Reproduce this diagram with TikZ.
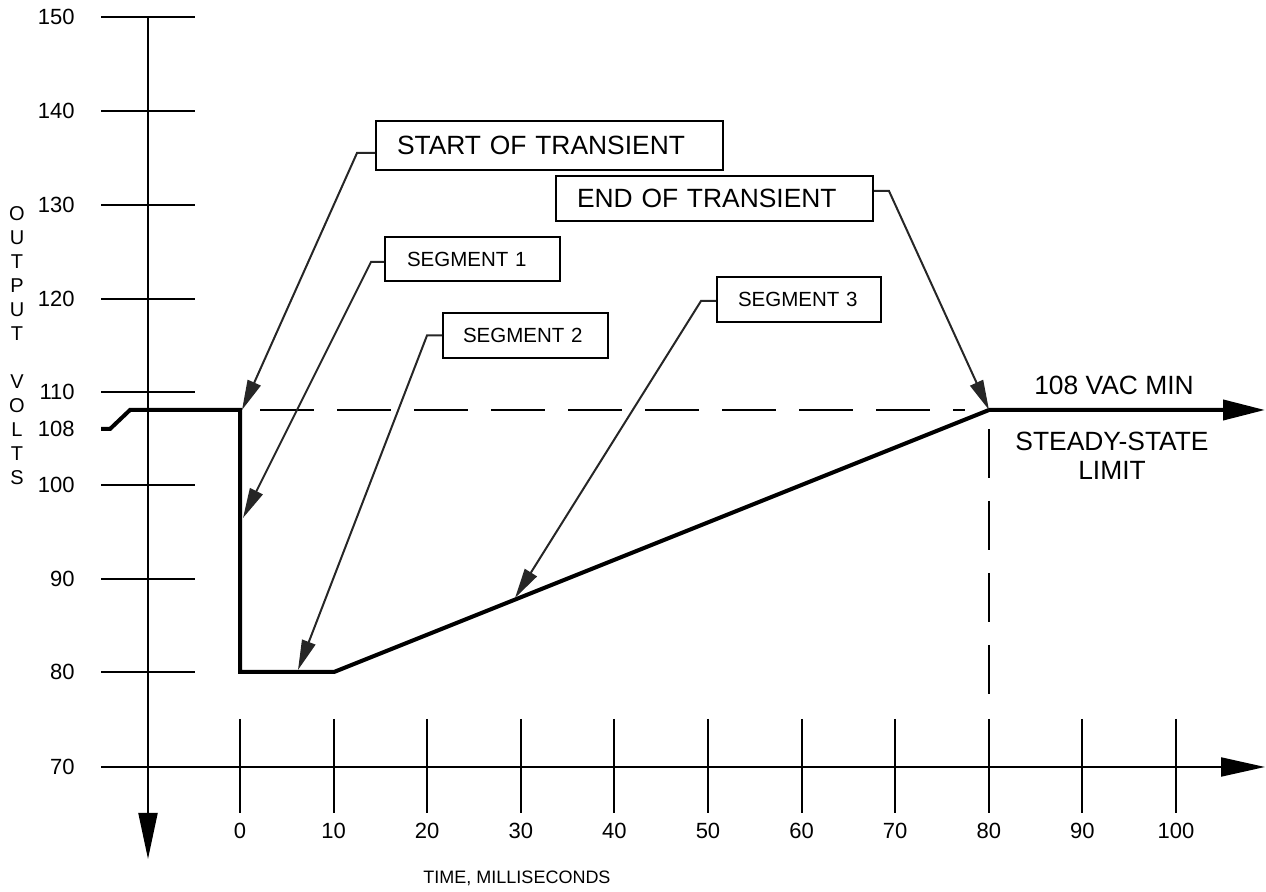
\documentclass[tikz,border=0pt]{standalone}
\usepackage{fontspec}
\setmainfont{Liberation Sans}
\usetikzlibrary{arrows.meta}
\begin{document}
\begin{tikzpicture}[x=0.5pt,y=-0.5pt,
  axis/.style={line width=1pt},
  curve/.style={line width=2pt, line join=miter},
  dashline/.style={line width=1pt, dash pattern=on 27pt off 11.5pt},
  leader/.style={line width=1pt, black!85, -{Triangle[length=15pt,width=7pt]}},
  bigbox/.style={draw, line width=1pt, font=\fontsize{13.2pt}{15pt}\selectfont, align=left, inner ysep=0pt},
  segbox/.style={draw, line width=1pt, font=\fontsize{10.25pt}{12pt}\selectfont, align=left, inner ysep=0pt, minimum height=22.5pt},
  ylab/.style={anchor=east, inner sep=0pt, font=\fontsize{11pt}{13pt}\selectfont},
  xlab/.style={inner sep=0pt, font=\fontsize{11pt}{13pt}\selectfont},
  biglab/.style={inner sep=0pt, font=\fontsize{13.2pt}{14.5pt}\selectfont, align=center}
]
\useasboundingbox (0,0) rectangle (1266,892);

% y axis ticks and labels
\foreach \v/\y in {150/17,140/111,130/205,120/299,110/392,100/485,90/579,80/672} {
  \draw[axis] (101,\y) -- (195,\y);
  \node[ylab] (y\v) at (75,\y) {\v};
}
\node[ylab] (y108) at (75,429) {108};
\node[ylab] (y70) at (75,767) {70};

% axes
\draw[axis,-{Triangle[length=23pt,width=9.5pt]}] (148,17) -- (148,859);
\draw[axis,-{Triangle[length=22pt,width=9.5pt]}] (101,767) -- (1265,767);

% x ticks and labels
\foreach \i in {0,...,10} {
  \pgfmathsetmacro{\xx}{240+93.6*\i}
  \pgfmathtruncatemacro{\lab}{10*\i}
  \draw[axis] (\xx,719) -- (\xx,813);
  \node[xlab] (x\lab) at (\xx,831) {\lab};
}
\node[inner sep=0pt, font=\fontsize{9pt}{10pt}\selectfont] (tlab) at (517,878) {TIME, MILLISECONDS};

% vertical axis title
\node[inner sep=0pt, align=center, font=\fontsize{10pt}{12pt}\selectfont] (vlab) at (17,346)
  {O\\U\\T\\P\\U\\T\\\mbox{}\\V\\O\\L\\T\\S};

% dashed limit lines
\draw[dashline] (260,410) -- (965,410);
\draw[line width=1pt, dash pattern=on 24.5pt off 11.5pt] (989,429) -- (989,694);

% voltage curve
\draw[curve,-{Triangle[length=21pt,width=10pt]}] (101,429) -- (110,429) -- (130,410) -- (240,410)
  -- (240,672) -- (334,672) -- (989,410) -- (1265,410);

% right labels
\node[biglab] (vac) at (1114,385) {108 VAC MIN};
\node[biglab] (ss) at (1112,456) {STEADY-STATE\\LIMIT};

% callout boxes
\node[bigbox, text width=152.5pt, inner xsep=10.5pt, minimum height=24.5pt] (bs) at (549.5,145.5) {START OF TRANSIENT};
\node[bigbox, text width=137.5pt, inner xsep=10.5pt, minimum height=22.5pt] (be) at (714.5,198.5) {END OF TRANSIENT};
\node[segbox, text width=65.5pt, inner xsep=11pt, minimum height=22pt] (b1) at (472.5,259) {SEGMENT 1};
\node[segbox, text width=62.5pt, inner xsep=10pt] (b2) at (525.5,335.5) {SEGMENT 2};
\node[segbox, text width=61pt, inner xsep=10.5pt] (b3) at (799,299.5) {SEGMENT 3};

% leader tips
\coordinate (tS) at (242,410);
\coordinate (t1) at (243,518);
\coordinate (t2) at (298,670);
\coordinate (t3) at (515,598);
\coordinate (tE) at (989,410);

% leaders
\draw[leader] ([yshift=-3.75pt]bs.west) -- ++(-18,0) -- (tS);
\draw[leader] ([yshift=-1.5pt]b1.west) -- ++(-13,0) -- (t1);
\draw[leader] (b2.west) -- ++(-15,0) -- (t2);
\draw[leader] ([yshift=-0.75pt]b3.west) -- ++(-15,0) -- (t3);
\draw[leader] ([yshift=3.75pt]be.east) -- ++(15,0) -- (tE);
\end{tikzpicture}
\end{document}
